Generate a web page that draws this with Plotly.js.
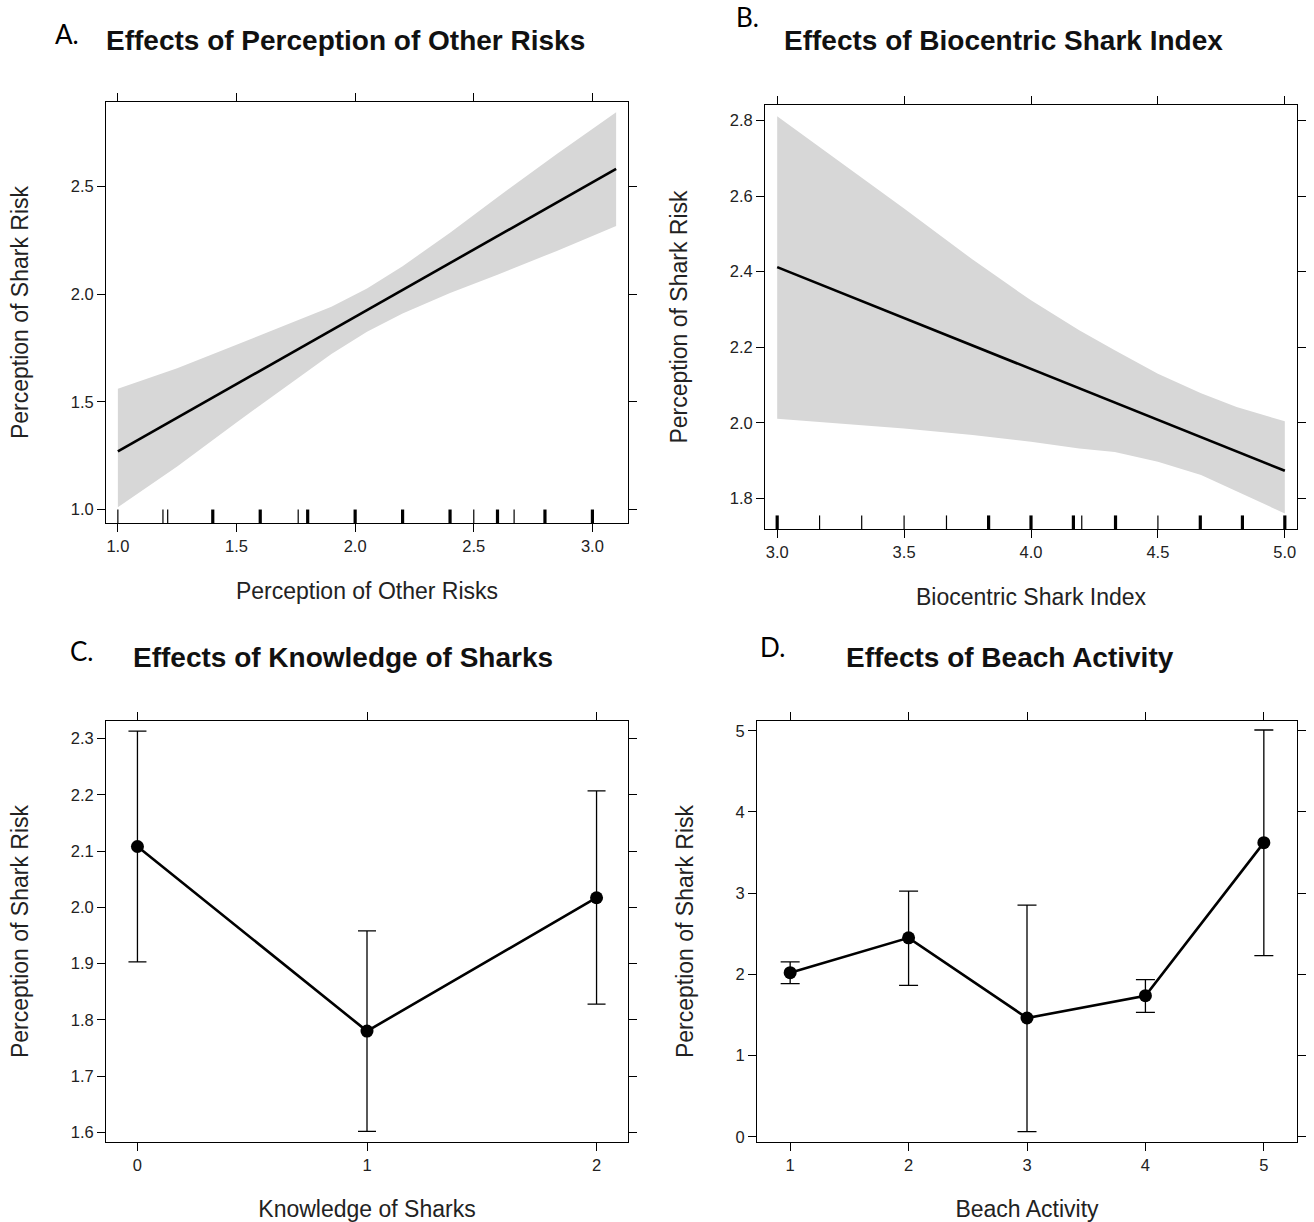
<!DOCTYPE html>
<html><head><meta charset="utf-8">
<script src="https://cdn.plot.ly/plotly-3.0.1.min.js"></script>
<style>html,body{margin:0;padding:0;background:#fff}</style>
</head><body><div id="chart" style="width:1314px;height:1222px"></div>
<script>
// ---------- Panel A: Perception of Other Risks ----------
const aBandX     = [1.0, 1.25, 1.5, 1.75, 1.9, 2.05, 2.2, 2.4, 2.6, 2.85, 3.1];
const aBandUpper = [1.561, 1.656, 1.765, 1.874, 1.942, 2.026, 2.130, 2.285, 2.450, 2.651, 2.845];
const aBandLower = [1.011, 1.200, 1.405, 1.604, 1.722, 1.826, 1.910, 2.005, 2.090, 2.201, 2.316];
const aLineX = [1.0, 3.1];
const aLineY = [1.27, 2.582];
const aRugFrequent = [1.4, 1.6, 1.8, 2.0, 2.2, 2.4, 2.6, 2.8, 3.0];
const aRugRare = [1.0, 1.19, 1.21, 1.76, 2.5, 2.67];

// ---------- Panel B: Biocentric Shark Index ----------
const bBandX     = [3.0, 3.5, 3.77, 4.0, 4.19, 4.33, 4.5, 4.67, 4.81, 5.0];
const bBandUpper = [2.811, 2.567, 2.432, 2.324, 2.245, 2.192, 2.130, 2.078, 2.042, 2.004];
const bBandLower = [2.011, 1.985, 1.968, 1.950, 1.932, 1.923, 1.897, 1.862, 1.818, 1.760];
const bLineX = [3.0, 5.0];
const bLineY = [2.412, 1.873];
const bRugFrequent = [3.0, 3.833, 4.0, 4.167, 4.333, 4.667, 4.833, 5.0];
const bRugRare = [3.167, 3.333, 3.5, 3.667, 4.2, 4.5];

// ---------- Panel C: Knowledge of Sharks ----------
const cLevels = [0, 1, 2];
const cFit    = [2.108, 1.780, 2.017];
const cUpper  = [2.313, 1.958, 2.207];
const cLower  = [1.903, 1.602, 1.828];

// ---------- Panel D: Beach Activity ----------
const dLevels = [1, 2, 3, 4, 5];
const dFit    = [2.02, 2.449, 1.462, 1.737, 3.622];
const dUpper  = [2.153, 3.025, 2.852, 1.935, 5.009];
const dLower  = [1.885, 1.864, 0.062, 1.531, 2.231];

// text
const panelTitles = ["Effects of Perception of Other Risks", "Effects of Biocentric Shark Index",
                     "Effects of Knowledge of Sharks", "Effects of Beach Activity"];
const panelLetters = ["A.", "B.", "C.", "D."];
const xTitles = ["Perception of Other Risks", "Biocentric Shark Index", "Knowledge of Sharks", "Beach Activity"];
const yTitle = "Perception of Shark Risk";

const W = 1314, H = 1222;
const FONT = "Liberation Sans, Arial, Helvetica, sans-serif";
const BAND = "#d7d7d7";

function band(xs, up, lo, xa, ya) {
  return {x: xs.concat(xs.slice().reverse()), y: up.concat(lo.slice().reverse()),
          type: "scatter", mode: "lines", fill: "toself", fillcolor: BAND,
          line: {width: 0, color: BAND}, hoverinfo: "skip",
          xaxis: xa, yaxis: ya, showlegend: false};
}
function line(xs, ys, xa, ya) {
  return {x: xs, y: ys, type: "scatter", mode: "lines", line: {color: "#000", width: 2.6},
          xaxis: xa, yaxis: ya, showlegend: false};
}
function effect(xs, fit, up, lo, xa, ya, capw) {
  return {x: xs, y: fit, type: "scatter", mode: "lines+markers",
          line: {color: "#000", width: 2.6}, marker: {color: "#000", size: 13},
          error_y: {type: "data", symmetric: false,
                    array: up.map((u, i) => u - fit[i]), arrayminus: lo.map((l, i) => fit[i] - l),
                    color: "#000", thickness: 1.3, width: capw},
          xaxis: xa, yaxis: ya, showlegend: false};
}
function rug(vals, xa, yref, w) {
  return vals.map(v => ({type: "line", xref: xa, yref: yref + " domain", x0: v, x1: v, y0: 0, y1: 0.032,
                         line: {color: "#000", width: w}}));
}

const px = (a, b) => [a / W, b / W];
const py = (top, bottom) => [1 - bottom / H, 1 - top / H];

function axis(domain, range, tick0, dtick, fmt, title, anchor, isX) {
  return {
    domain: domain, range: range, tick0: tick0, dtick: dtick, tickformat: fmt,
    showline: true, mirror: "allticks", linecolor: "#000", linewidth: 1,
    ticks: "outside", ticklen: 8, tickwidth: 1, tickcolor: "#000",
    showgrid: false, zeroline: false, anchor: anchor, fixedrange: true,
    tickfont: {family: FONT, size: 16.5, color: "#222"},
    title: {text: title, font: {family: FONT, size: 23, color: "#222"}, standoff: isX ? 29 : 35}
  };
}

const traces = [
  band(aBandX, aBandUpper, aBandLower, "x", "y"),
  line(aLineX, aLineY, "x", "y"),
  band(bBandX, bBandUpper, bBandLower, "x2", "y2"),
  line(bLineX, bLineY, "x2", "y2"),
  effect(cLevels, cFit, cUpper, cLower, "x3", "y3", 9),
  effect(dLevels, dFit, dUpper, dLower, "x4", "y4", 9.5)
];

const shapes = [].concat(
  rug(aRugFrequent, "x", "y", 3.2), rug(aRugRare, "x", "y", 1.2),
  rug(bRugFrequent, "x2", "y2", 3.2), rug(bRugRare, "x2", "y2", 1.2)
);

const titlePos = [[345, 40], [1003, 40], [343, 657], [1010, 657]];
const letterPos = [[67, 34], [747, 17], [82, 651], [772, 647]];
const annotations = [];
panelTitles.forEach((t, i) => annotations.push({
  text: "<b>" + t + "</b>", xref: "paper", yref: "paper", x: titlePos[i][0] / W, y: 1 - titlePos[i][1] / H,
  xanchor: "center", yanchor: "middle", showarrow: false, font: {family: FONT, size: 28, color: "#111"}
}));
panelLetters.forEach((t, i) => annotations.push({
  text: t, xref: "paper", yref: "paper", x: letterPos[i][0] / W, y: 1 - letterPos[i][1] / H,
  xanchor: "center", yanchor: "middle", showarrow: false, font: {family: "Lato, Carlito, sans-serif", size: 26, color: "#000"}
}));

const layout = {
  width: W, height: H, margin: {l: 0, r: 0, t: 0, b: 0},
  paper_bgcolor: "#fff", plot_bgcolor: "#fff", showlegend: false,
  xaxis:  axis(px(106, 628), [0.95, 3.15], 1.0, 0.5, ".1f", xTitles[0], "y", true),
  yaxis:  axis(py(102, 523), [0.938, 2.892], 1.0, 0.5, ".1f", yTitle, "x", false),
  xaxis2: axis(px(765, 1297), [2.952, 5.048], 3.0, 0.5, ".1f", xTitles[1], "y2", true),
  yaxis2: axis(py(105, 529), [1.719, 2.841], 1.8, 0.2, ".1f", yTitle, "x2", false),
  xaxis3: axis(px(106, 628), [-0.137, 2.137], 0, 1, "d", xTitles[2], "y3", true),
  yaxis3: axis(py(721, 1142), [1.583, 2.331], 1.6, 0.1, ".1f", yTitle, "x3", false),
  xaxis4: axis(px(757, 1297), [0.72, 5.28], 1, 1, "d", xTitles[3], "y4", true),
  yaxis4: axis(py(721, 1142), [-0.065, 5.12], 0, 1, "d", yTitle, "x4", false),
  shapes: shapes, annotations: annotations
};

Plotly.newPlot("chart", traces, layout, {displayModeBar: false, staticPlot: true});
</script></body></html>
